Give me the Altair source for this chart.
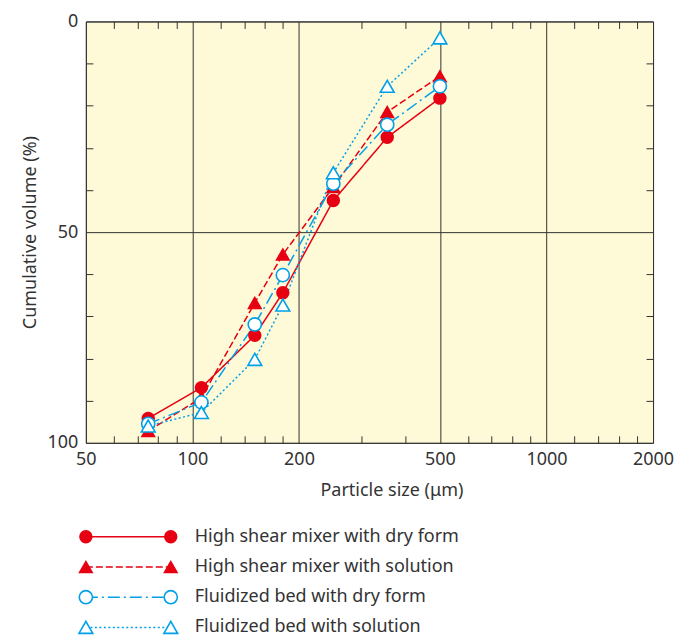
import altair as alt
import pandas as pd

# ---- data ----
particle_size = [75, 106, 150, 180, 250, 355, 500]
hs_dry = [94.2, 86.9, 74.5, 64.4, 42.5, 27.5, 18.2]
hs_sol = [97.2, 89.3, 66.8, 55.3, 39.3, 21.5, 13.0]
fb_dry = [95.5, 90.4, 71.9, 60.2, 38.5, 24.5, 15.4]
fb_sol = [96.0, 92.8, 80.2, 67.3, 35.9, 15.4, 3.9]
series_names = [
    "High shear mixer with dry form",
    "High shear mixer with solution",
    "Fluidized bed with dry form",
    "Fluidized bed with solution",
]
x_major = [50, 100, 200, 500, 1000, 2000]
x_minor = [60, 70, 80, 90, 120, 140, 160, 180, 300, 400,
           600, 700, 800, 900, 1200, 1400, 1600, 1800]
y_major = [0, 50, 100]
y_minor = [10, 20, 30, 40, 60, 70, 80, 90]

RED = "#E60012"
BLUE = "#00A0E9"
INK = "#333333"
BG = "#FEF9D7"
FONT = "Noto Sans"

rows = []
for name, vals in zip(series_names, [hs_dry, hs_sol, fb_dry, fb_sol]):
    for s, v in zip(particle_size, vals):
        rows.append({"series": name, "size": s, "volume": v})
df = pd.DataFrame(rows)

xs = alt.Scale(type="log", domain=[50, 2000], nice=False)
ys = alt.Scale(domain=[0, 100], reverse=True, nice=False, zero=False)
color_s = alt.Scale(domain=series_names, range=[RED, RED, BLUE, BLUE])
fill_s = alt.Scale(domain=series_names, range=[RED, RED, "#FFFFFF", "#FFFFFF"])
dash_s = alt.Scale(domain=series_names, range=[[1, 0], [7, 3], [12, 4, 2, 4], [2, 2.5]])
shape_s = alt.Scale(domain=series_names, range=["circle", "triangle-up", "circle", "triangle-up"])
msize_s = alt.Scale(domain=series_names, range=[140, 190, 120, 190])

txt = dict(labelFont=FONT, labelFontSize=18, labelColor=INK,
           titleFont=FONT, titleFontSize=18, titleColor=INK, titleFontWeight="normal")

main_x = alt.Axis(orient="bottom", values=x_major, format="d", grid=True, gridColor=INK,
                  gridWidth=1, ticks=False, domain=False, labelFlush=False, labelPadding=8,
                  title="Particle size (μm)", titlePadding=13, titleX=306, **txt)
main_y = alt.Axis(orient="left", values=y_major, grid=True, gridColor=INK, gridWidth=1,
                  ticks=False, domain=False, labelFlush=False, labelPadding=8,
                  title="Cumulative volume (%)", titlePadding=8, **txt)


def minor_axis(orient, vals):
    return alt.Axis(orient=orient, values=vals, offset=-7, tickSize=7, ticks=True,
                    tickColor=INK, tickWidth=1, labels=False, domain=False, grid=False,
                    title=None)


lines = alt.Chart().mark_line(strokeWidth=1.5).encode(
    x=alt.X("size:Q", scale=xs, axis=main_x),
    y=alt.Y("volume:Q", scale=ys, axis=main_y),
    color=alt.Color("series:N", scale=color_s, legend=None),
    strokeDash=alt.StrokeDash("series:N", scale=dash_s, legend=None),
    order=alt.Order("size:Q"),
)

points = alt.Chart().mark_point(filled=True, strokeWidth=1.6, opacity=1).encode(
    x=alt.X("size:Q", scale=xs, axis=minor_axis("bottom", x_minor)),
    y=alt.Y("volume:Q", scale=ys, axis=minor_axis("left", y_minor)),
    fill=alt.Fill("series:N", scale=fill_s, legend=None),
    stroke=alt.Stroke("series:N", scale=color_s, legend=None),
    shape=alt.Shape("series:N", scale=shape_s, legend=None),
    size=alt.Size("series:N", scale=msize_s, legend=None),
)

ghost = alt.Chart().mark_point(opacity=0).encode(
    x=alt.X("size:Q", scale=xs, axis=minor_axis("top", x_minor)),
    y=alt.Y("volume:Q", scale=ys, axis=minor_axis("right", y_minor)),
)

main = alt.layer(lines, points, ghost, data=df).resolve_axis(
    x="independent", y="independent"
).properties(
    width=568, height=422,
    view=alt.ViewBackground(fill=BG, stroke=INK, strokeWidth=1),
)

# ---- legend drawn as its own small chart ----
leg_df = pd.DataFrame([{"series": n, "end": e} for n in series_names for e in (0, 1)])
lx = alt.X("end:Q", scale=alt.Scale(domain=[0, 1], nice=False, zero=False), axis=None)
ly = alt.Y("series:N", sort=series_names, scale=alt.Scale(domain=series_names), axis=None)

leg_lines = alt.Chart().mark_line(strokeWidth=1.5).encode(
    x=lx, y=ly,
    color=alt.Color("series:N", scale=color_s, legend=None),
    strokeDash=alt.StrokeDash("series:N", scale=dash_s, legend=None),
)
leg_pts = alt.Chart().mark_point(filled=True, strokeWidth=1.6, opacity=1).encode(
    x=lx, y=ly,
    fill=alt.Fill("series:N", scale=fill_s, legend=None),
    stroke=alt.Stroke("series:N", scale=color_s, legend=None),
    shape=alt.Shape("series:N", scale=shape_s, legend=None),
    size=alt.Size("series:N", scale=msize_s, legend=None),
)
leg_text = alt.Chart().transform_filter("datum.end == 1").mark_text(
    align="left", baseline="middle", dx=24, font=FONT, fontSize=18, color=INK
).encode(x=lx, y=ly, text="series:N")

legend = alt.layer(leg_lines, leg_pts, leg_text, data=leg_df).properties(
    width=85, height=121,
    view=alt.ViewBackground(fill="transparent", stroke="transparent", strokeWidth=0),
)

chart = alt.vconcat(main, legend, spacing=21).properties(
    padding={"left": 20, "top": 11, "right": 5, "bottom": 2}
).configure_view(strokeWidth=0).configure(font=FONT)

chart.save("out.html", embed_options={"renderer": "svg", "actions": False})
